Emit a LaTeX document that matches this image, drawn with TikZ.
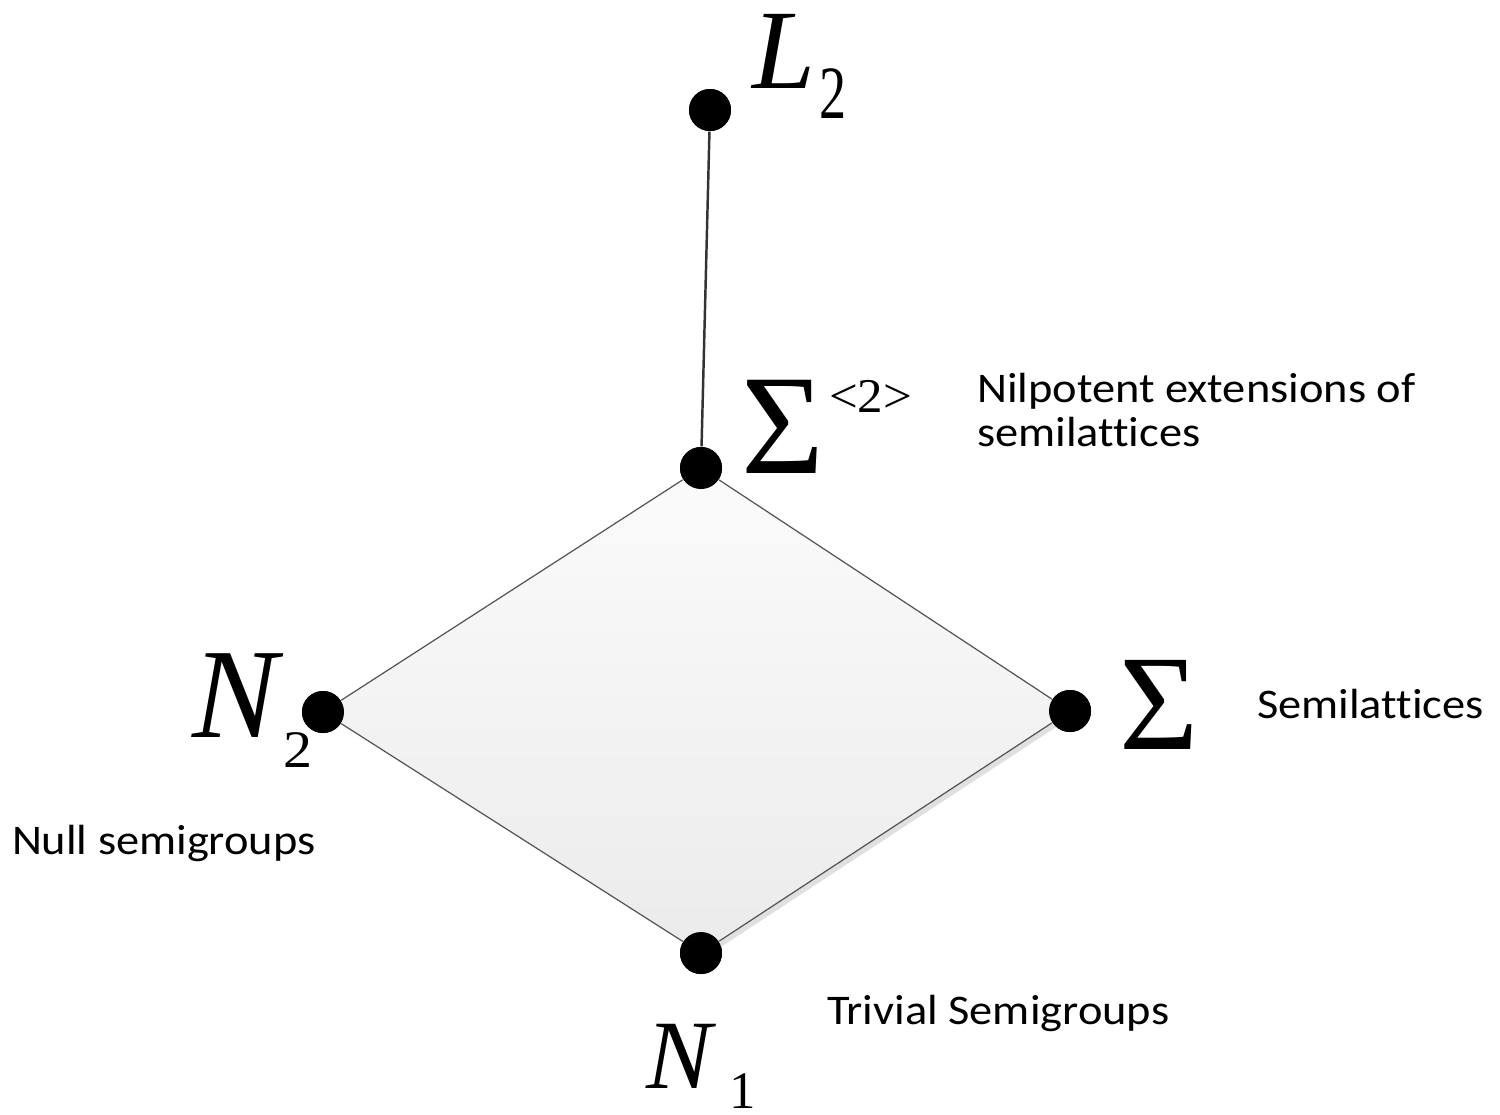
\documentclass[tikz,border=0pt]{standalone}
\usepackage{fontspec}
\setmainfont{Liberation Serif}
\newfontfamily\lblfont[Ligatures=NoCommon]{Carlito}
\usetikzlibrary{calc}
\definecolor{edgegray}{HTML}{555555}
\definecolor{stemgray}{HTML}{333333}
\definecolor{shadowgray}{HTML}{E0E0E0}
\definecolor{filltop}{HTML}{FBFBFB}
\definecolor{fillbot}{HTML}{EBEBEB}
\tikzset{
  dot/.style={circle, fill=black, minimum size=0.42cm, inner sep=0pt},
  edge/.style={draw=edgegray, line width=0.35pt},
  stem/.style={draw=stemgray, line width=0.7pt},
  glyph/.style={anchor=base west, inner sep=0pt, outer sep=0pt},
  lbl/.style={anchor=base west, inner sep=0pt, outer sep=0pt, align=left},
}
\newcommand{\lbltext}[1]{\scalebox{1.1}[1]{\lblfont\fontsize{12pt}{12pt}\selectfont #1}}
\newcommand{\gl}[3]{\scalebox{#2}[1]{\fontsize{#1}{#1}\selectfont #3}}
\begin{document}
\begin{tikzpicture}[x=0.01cm, y=-0.01cm]
\useasboundingbox (0,0) rectangle (1500,1114);
% dots
\node[dot] (L2) at (710,110) {};
\node[dot] (S2) at (701,468) {};
\node[dot] (N2) at (323,712) {};
\node[dot] (S)  at (1070,711) {};
\node[dot] (N1) at (701,953) {};
% diamond shadow and fill
\fill[shadowgray] ($(S.center)+(3,5)$) -- ($(N1.center)+(3,5)$) -- (N1.center) -- (S.center) -- cycle;
\shade[top color=filltop, bottom color=fillbot] (S2.center) -- (S.center) -- (N1.center) -- (N2.center) -- cycle;
\draw[edge] (S2) -- (S);
\draw[edge] (S) -- (N1);
\draw[edge] (N1) -- (N2);
\draw[edge] (N2) -- (S2);
\draw[stem] (L2) -- (S2);
% redraw dots on top
\node[dot] at (L2) {};
\node[dot] at (S2) {};
\node[dot] at (N2) {};
\node[dot] at (S) {};
\node[dot] at (N1) {};
% math labels
\node[glyph] (L2main) at (752,88) {\gl{32.2pt}{1}{\itshape L}};
\node[glyph] (L2sub) at (819,118) {\gl{21.4pt}{0.72}{2}};
\node[glyph] (S2main) at (741,473) {\gl{40.5pt}{1}{Σ}};
\node[glyph] (S2sup) at (829,412) {\gl{13.8pt}{1.05}{<2>}};
\node[glyph] (N2main) at (192,737) {\gl{36.4pt}{1}{\itshape N}};
\node[glyph] (N2sub) at (283,767) {\gl{15pt}{1.1}{2}};
\node[glyph] (Smain) at (1119,749) {\gl{38.7pt}{1}{Σ}};
\node[glyph] (N1main) at (646,1088) {\gl{27.9pt}{1}{\itshape N}};
\node[glyph] (N1sub) at (729,1108) {\gl{15pt}{1}{1}};
% text labels
\node[lbl] (nilp1) at (977,402) {\lbltext{Nilpotent extensions of}};
\node[lbl] (nilp2) at (977,446) {\lbltext{semilattices}};
\node[lbl] (semil) at (1257,718) {\lbltext{Semilattices}};
\node[lbl] (nulls) at (12,854) {\lbltext{Null semigroups}};
\node[lbl] (trivs) at (827,1024) {\lbltext{Trivial Semigroups}};
\end{tikzpicture}
\end{document}
